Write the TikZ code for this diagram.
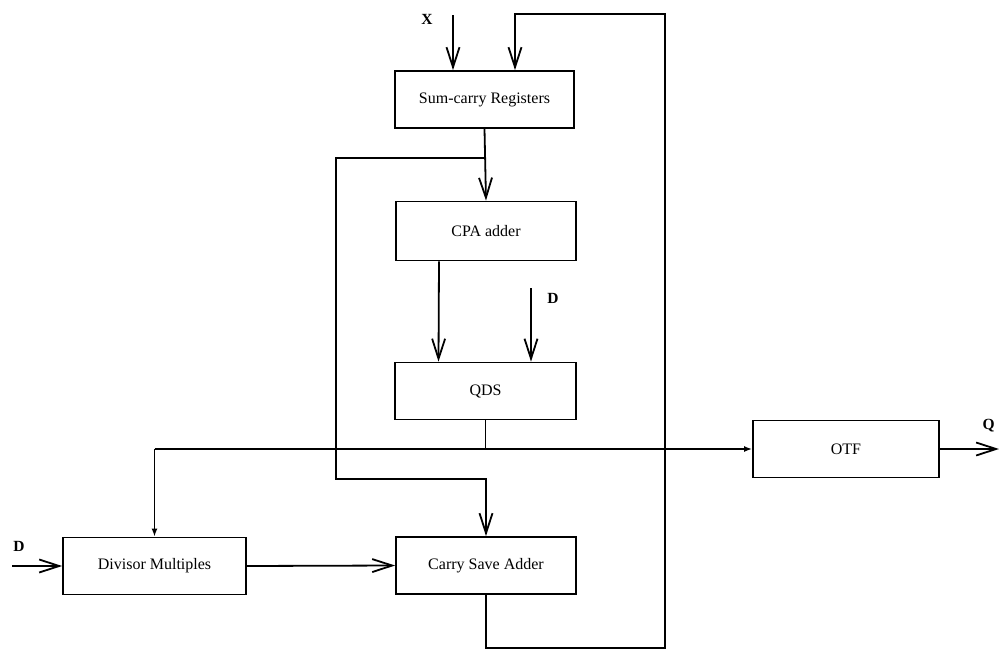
\documentclass[tikz,border=0pt]{standalone}
\usepackage{fontspec}
\setmainfont{Liberation Serif}
\usepackage{tikz}
\usetikzlibrary{arrows.meta}

\begin{document}
\begin{tikzpicture}[x=1pt,y=-1pt,line width=1.8pt,font=\fontsize{16}{18}\selectfont]
    \tikzstyle{block}=[draw,inner sep=0pt,minimum height=57pt]
    \tikzstyle{barb}=[-{Straight Barb[length=20pt,width=13pt,line width=1.8pt]}]
    \tikzstyle{small}=[-{Latex[length=8pt,width=6pt]}]
    \tikzstyle{lbl}=[font=\fontsize{15.5}{18}\selectfont\bfseries]
    \useasboundingbox (0,0) rectangle (999,653);
    % blocks
    \node[block,minimum width=179pt] (reg) at (484.5,99.5) {Sum-carry Registers};
    \node[block,minimum width=180pt,minimum height=59pt] (cpa) at (486,231) {CPA adder};
    \node[block,minimum width=181pt] (qds) at (485.5,391) {QDS};
    \node[block,minimum width=180pt] (csa) at (486,565.5) {Carry Save Adder};
    \node[block,minimum width=186pt] (otf) at (846,449) {OTF};
    \node[block,minimum width=183pt] (div) at (154.5,566) {Divisor Multiples};
    % inputs, outputs and corners
    \coordinate (xin) at (453,15);
    \coordinate (top) at (515,14);
    \coordinate (fb) at (665,648);
    \coordinate (tap) at (484.5,158);
    \coordinate (lft) at (336,479);
    \coordinate (din) at (531,288);
    \coordinate (bus) at (154.5,449);
    \coordinate (dleft) at (12,566);
    \coordinate (qout) at (999,449);
    \node[lbl] (xl) at (427,19) {X};
    \node[lbl] (dq) at (553,298) {D};
    \node[lbl] (dd) at (19,546) {D};
    \node[lbl,anchor=east] (ql) at (999,426) {Q};
    % connectors
    \draw[barb] (xin) -- (xin |- reg.north);
    \draw[barb] (csa.south) |- (fb) |- (top) -- (top |- reg.north);
    \draw[barb] (reg.south) -- (cpa.north);
    \draw[barb] (tap) -| (lft) -| (csa.north);
    \draw[barb] ([xshift=-47pt]cpa.south) -- ([xshift=-47pt]qds.north);
    \draw[barb] (din) -- (din |- qds.north);
    \draw (qds.south) -- (qds.south |- otf.west);
    \draw[small] (bus) -- (otf.west);
    \draw[small] (bus) -- (div.north);
    \draw[barb] (otf.east) -- (qout);
    \draw[barb] (dleft) -- (div.west);
    \draw[barb] (div.east) -- (csa.west);
\end{tikzpicture}
\end{document}
